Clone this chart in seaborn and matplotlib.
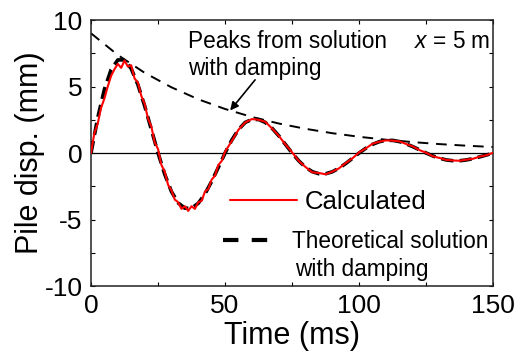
import numpy as np
import pandas as pd
import matplotlib
matplotlib.use("Agg")
import matplotlib.pyplot as plt
from matplotlib.lines import Line2D
from matplotlib.ticker import MultipleLocator
import seaborn as sns

# ---------------- data ----------------
t_calc = [0, 1.25, 2.5, 3.75, 5, 6.25, 7.5, 8.75, 10, 11.25, 12.5, 13.75, 15, 16.25,
          17.5, 18.75, 20, 21.25, 22.5, 23.75, 25, 26.25, 27.5, 28.75, 30, 31.25,
          32.5, 33.75, 35, 36.25, 37.5, 38.75, 40, 41.25, 42.5, 43.75, 45, 46.25,
          47.5, 48.75, 50, 52.5, 55, 57.5, 60, 62.5, 65, 67.5, 70, 72.5, 75, 77.5,
          80, 82.5, 85, 87.5, 90, 92.5, 95, 97.5, 100, 102.5, 105, 107.5, 110,
          112.5, 115, 117.5, 120, 122.5, 125, 127.5, 130, 132.5, 135, 137.5, 140,
          142.5, 145, 147.5, 150]
y_calc = [0.0, 1.5, 2.2, 3.4, 4.1, 5.0, 5.8, 6.3, 6.7, 6.4, 6.95, 6.5, 6.6, 5.6,
          5.3, 4.3, 3.7, 2.6, 2.0, 0.8, 0.3, -0.9, -1.4, -2.4, -2.8, -3.5,
          -3.7, -4.2, -4.0, -4.35, -4.0, -4.2, -3.7, -3.6, -2.9, -2.7, -2.0, -1.7,
          -0.9, -0.6, 0.1, 0.9, 1.75, 2.3, 2.55, 2.5, 2.35, 1.85, 1.3, 0.65, 0.05, -0.6,
          -1.05, -1.45, -1.5, -1.6, -1.4, -1.15, -0.75, -0.4, 0.05, 0.35, 0.7, 0.85, 0.95,
          0.93, 0.88, 0.68, 0.5, 0.22, 0.02, -0.25, -0.37, -0.52, -0.56, -0.58, -0.5,
          -0.43, -0.27, -0.16, 0.02]

t_theory = [0, 2.5, 5, 7.5, 10, 12.5, 15, 17.5, 20, 22.5, 25, 27.5, 30, 32.5, 35,
            37.5, 40, 42.5, 45, 47.5, 50, 52.5, 55, 57.5, 60, 62.5, 65, 67.5, 70,
            72.5, 75, 77.5, 80, 82.5, 85, 87.5, 90, 92.5, 95, 97.5, 100, 102.5, 105,
            107.5, 110, 112.5, 115, 117.5, 120, 122.5, 125, 127.5, 130, 132.5, 135,
            137.5, 140, 142.5, 145, 147.5, 150]
y_theory = [0.0, 2.64, 4.79, 6.27, 7.0, 7.0, 6.34, 5.13, 3.55, 1.77, 0.0, -1.6,
            -2.9, -3.75, -4.15, -4.15, -3.78, -3.08, -2.13, -1.08, 0.0, 0.97, 1.76,
            2.3, 2.52, 2.52, 2.3, 1.87, 1.3, 0.65, 0.0, -0.59, -1.07, -1.4, -1.56,
            -1.56, -1.41, -1.14, -0.79, -0.4, 0.0, 0.36, 0.65, 0.85, 0.95, 0.95,
            0.86, 0.69, 0.48, 0.24, 0.0, -0.22, -0.39, -0.52, -0.58, -0.58, -0.52,
            -0.42, -0.29, -0.15, 0.0]

t_peaks = [0, 10, 20, 30, 40, 50, 60, 70, 80, 90, 100, 110, 120, 130, 140, 150]
y_peaks = [9.0, 7.37, 6.03, 4.94, 4.04, 3.31, 2.71, 2.22, 1.82, 1.49, 1.22, 1.0,
           0.82, 0.67, 0.55, 0.45]

x_ticks = [0, 50, 100, 150]
y_ticks = [-10, -5, 0, 5, 10]

# ---------------- style ----------------
sns.set_style("ticks")
plt.rcParams["font.family"] = ["Liberation Sans", "DejaVu Sans"]
plt.rcParams["mathtext.fontset"] = "custom"
plt.rcParams["mathtext.rm"] = "Liberation Sans"
plt.rcParams["mathtext.it"] = "Liberation Sans:italic"
plt.rcParams["text.color"] = "black"
plt.rcParams["axes.labelcolor"] = "black"
plt.rcParams["xtick.color"] = "black"
plt.rcParams["ytick.color"] = "black"

fig = plt.figure(figsize=(5.23, 3.54), dpi=100)
ax = fig.add_axes([0.174, 0.192, 0.769, 0.7515])

df_calc = pd.DataFrame({"t": t_calc, "y": y_calc})
df_theory = pd.DataFrame({"t": t_theory, "y": y_theory})
df_peaks = pd.DataFrame({"t": t_peaks, "y": y_peaks})

ax.axhline(0, color="black", lw=0.9, zorder=1)

sns.lineplot(data=df_peaks, x="t", y="y", ax=ax, color="black", lw=1.4,
             estimator=None, sort=False, zorder=2)
ax.lines[-1].set_dashes([5.5, 4.0])

sns.lineplot(data=df_theory, x="t", y="y", ax=ax, color="black", lw=2.6,
             estimator=None, sort=False, zorder=3)
ax.lines[-1].set_dashes([3.4, 1.7])

sns.lineplot(data=df_calc, x="t", y="y", ax=ax, color="#ff0000", lw=1.5,
             estimator=None, sort=False, zorder=4)

ax.set_xlim(0, 150)
ax.set_ylim(-10, 10)
ax.set_xticks(x_ticks)
ax.set_yticks(y_ticks)
ax.set_xticklabels([str(v) for v in x_ticks])
ax.set_yticklabels([str(v) for v in y_ticks])
ax.xaxis.set_minor_locator(MultipleLocator(25))
ax.yaxis.set_minor_locator(MultipleLocator(2.5))
ax.tick_params(which="both", direction="in", length=3, width=0.8,
               top=True, right=True, labelsize=19, pad=6, colors="black")
for s in ax.spines.values():
    s.set_linewidth(1.1)
    s.set_color("#222222")

ax.set_xlabel("Time (ms)", fontsize=22, labelpad=2)
ax.set_ylabel("Pile disp. (mm)", fontsize=22, labelpad=0)

# annotations
ax.text(36.2, 7.9, "Peaks from solution", fontsize=16.3, ha="left", va="baseline")
ax.text(36.2, 5.86, "with damping", fontsize=16.3, ha="left", va="baseline")
ax.annotate("", xy=(51.9, 3.2), xytext=(61.2, 5.5),
            arrowprops=dict(arrowstyle="-|>", color="black", lw=1.2,
                            mutation_scale=12, shrinkA=0, shrinkB=0))
ax.text(148.9, 7.9, "$x$ = 5 m", fontsize=16.3, ha="right", va="baseline")

# legends
h1 = Line2D([], [], color="#ff0000", lw=1.5)
leg1 = ax.legend(handles=[h1], labels=["Calculated"], loc="center left",
                 bbox_to_anchor=(0.3458, 0.316), frameon=False, fontsize=18.5,
                 handlelength=2.6, handletextpad=0.31, borderpad=0,
                 borderaxespad=0)
ax.add_artist(leg1)
h2 = Line2D([], [], color="black", lw=3.0, dashes=[3.7, 3.2])
leg2 = ax.legend(handles=[h2], labels=["Theoretical solution"], loc="center left",
                 bbox_to_anchor=(0.328, 0.169), frameon=False, fontsize=16.3,
                 handlelength=2.0, handletextpad=1.06, borderpad=0,
                 borderaxespad=0)
ax.text(76.1, -9.25, "with damping", fontsize=16.3, ha="left", va="baseline")

fig.savefig("out.png", dpi=100)
